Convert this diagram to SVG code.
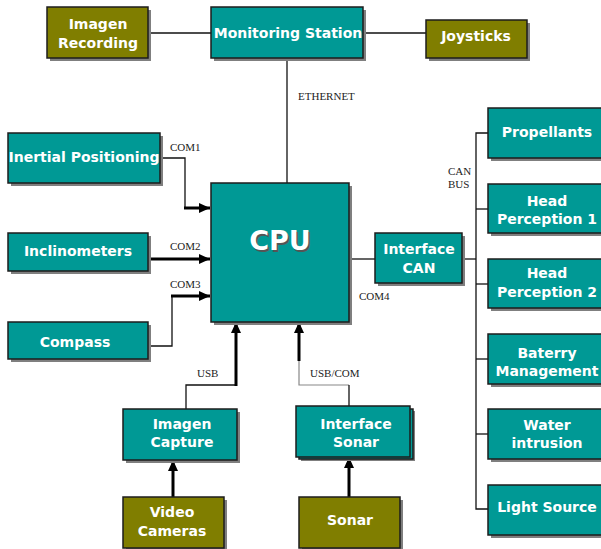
<svg xmlns="http://www.w3.org/2000/svg" width="601" height="549" viewBox="0 0 601 549">
<defs>
<marker id="ah" markerUnits="userSpaceOnUse" markerWidth="12" markerHeight="12" viewBox="0 0 12 12" refX="11" refY="6" orient="auto">
<path d="M0,1 L11,6 L0,11 Z" fill="#000"/>
</marker>
</defs>
<style>
.sh{fill:#7f7f7f}
.t{fill:#009995;stroke:#1c1c1c;stroke-width:1.5}
.o{fill:#807e00;stroke:#1c1c1c;stroke-width:1.5}
.lb{font-family:"DejaVu Sans",Verdana,sans-serif;font-weight:bold;font-size:14px;fill:#fff;text-anchor:middle}
.cl{font-family:"Liberation Serif","Times New Roman",serif;font-size:11px;fill:#222}
.thin{fill:none;stroke:#111;stroke-width:1.3}
.thick{fill:none;stroke:#000;stroke-width:3}
</style>
<g id="connectors">
<line class="thin" x1="148" y1="33" x2="211" y2="33"/>
<line class="thin" x1="363" y1="33" x2="426" y2="33"/>
<line class="thin" x1="287" y1="58" x2="287" y2="183"/>
<polyline class="thin" points="160,158 185,158 185,208"/>
<line class="thick" x1="184" y1="208" x2="210" y2="208" marker-end="url(#ah)"/>
<line class="thick" x1="148" y1="259" x2="210" y2="259" stroke-width="2.5" marker-end="url(#ah)"/>
<polyline class="thin" points="148,346 172,346 172,296"/>
<line class="thick" x1="171" y1="296" x2="210" y2="296" marker-end="url(#ah)"/>
<polyline class="thin" points="186,409 186,385 236,385"/>
<line class="thick" x1="236" y1="386" x2="236" y2="322" marker-end="url(#ah)"/>
<polyline fill="none" stroke="#888" stroke-width="1.2" points="299,360 299,385 349,385"/>
<line class="thin" x1="349" y1="385" x2="349" y2="406"/>
<line class="thick" x1="299" y1="361" x2="299" y2="322" marker-end="url(#ah)"/>
<line class="thick" x1="173" y1="497" x2="173" y2="460" marker-end="url(#ah)"/>
<line class="thick" x1="349" y1="497" x2="349" y2="457" marker-end="url(#ah)"/>
<line class="thin" x1="349" y1="259" x2="375" y2="259"/>
<line class="thin" x1="462" y1="259" x2="476" y2="259"/>
<polyline class="thin" points="488,133 476,133 476,509 488,509"/>
<line class="thin" x1="476" y1="209" x2="488" y2="209"/>
<line class="thin" x1="476" y1="284" x2="488" y2="284"/>
<line class="thin" x1="476" y1="359" x2="488" y2="359"/>
<line class="thin" x1="476" y1="434" x2="488" y2="434"/>
<text class="cl" x="298" y="100">ETHERNET</text>
<text class="cl" x="170" y="151">COM1</text>
<text class="cl" x="170" y="250">COM2</text>
<text class="cl" x="170" y="288">COM3</text>
<text class="cl" x="359" y="300">COM4</text>
<text class="cl" x="197" y="377">USB</text>
<text class="cl" x="310" y="377">USB/COM</text>
<text class="cl" x="448" y="175">CAN</text>
<text class="cl" x="448" y="188">BUS</text>
</g>
<g id="imagen-recording">
<rect class="sh" x="50" y="10" width="101" height="51"/>
<rect class="o" x="47" y="7" width="101" height="51"/>
<text class="lb" x="98" y="29">Imagen</text>
<text class="lb" x="98" y="48">Recording</text>
</g>
<g id="monitoring-station">
<rect class="sh" x="214" y="10" width="152" height="51"/>
<rect class="t" x="211" y="7" width="152" height="51"/>
<text class="lb" x="288" y="38">Monitoring Station</text>
</g>
<g id="joysticks">
<rect class="sh" x="429" y="23" width="101" height="38"/>
<rect class="o" x="426" y="20" width="101" height="38"/>
<text class="lb" x="476" y="41">Joysticks</text>
</g>
<g id="inertial-positioning">
<rect class="sh" x="11" y="136" width="152" height="50"/>
<rect class="t" x="8" y="133" width="152" height="50"/>
<text class="lb" x="84" y="162">Inertial Positioning</text>
</g>
<g id="inclinometers">
<rect class="sh" x="11" y="236" width="140" height="38"/>
<rect class="t" x="8" y="233" width="140" height="38"/>
<text class="lb" x="78" y="256">Inclinometers</text>
</g>
<g id="compass">
<rect class="sh" x="11" y="325" width="140" height="37"/>
<rect class="t" x="8" y="322" width="140" height="37"/>
<text class="lb" x="75" y="347">Compass</text>
</g>
<g id="cpu">
<rect class="sh" x="214" y="186" width="138" height="139"/>
<rect class="t" x="211" y="183" width="138" height="139"/>
<text x="281.5" y="251.5" font-family="'DejaVu Sans',Verdana,sans-serif" font-weight="bold" font-size="27" fill="#555" text-anchor="middle">CPU</text>
<text x="280" y="250" font-family="'DejaVu Sans',Verdana,sans-serif" font-weight="bold" font-size="27" fill="#fff" text-anchor="middle">CPU</text>
</g>
<g id="interface-can">
<rect class="sh" x="378" y="236" width="87" height="50"/>
<rect class="t" x="375" y="233" width="87" height="50"/>
<text class="lb" x="419" y="254">Interface</text>
<text class="lb" x="419" y="273">CAN</text>
</g>
<g id="propellants">
<rect class="sh" x="491" y="111" width="130" height="50"/>
<rect class="t" x="488" y="108" width="130" height="50"/>
<text class="lb" x="547" y="137">Propellants</text>
</g>
<g id="head-perception-1">
<rect class="sh" x="491" y="187" width="130" height="49"/>
<rect class="t" x="488" y="184" width="130" height="49"/>
<text class="lb" x="547" y="206">Head</text>
<text class="lb" x="547" y="224">Perception 1</text>
</g>
<g id="head-perception-2">
<rect class="sh" x="491" y="262" width="130" height="49"/>
<rect class="t" x="488" y="259" width="130" height="49"/>
<text class="lb" x="547" y="278">Head</text>
<text class="lb" x="547" y="297">Perception 2</text>
</g>
<g id="baterry-management">
<rect class="sh" x="491" y="337" width="130" height="50"/>
<rect class="t" x="488" y="334" width="130" height="50"/>
<text class="lb" x="547" y="358">Baterry</text>
<text class="lb" x="547" y="376">Management</text>
</g>
<g id="water-intrusion">
<rect class="sh" x="491" y="412" width="130" height="50"/>
<rect class="t" x="488" y="409" width="130" height="50"/>
<text class="lb" x="547" y="430">Water</text>
<text class="lb" x="547" y="448">intrusion</text>
</g>
<g id="light-source">
<rect class="sh" x="491" y="488" width="130" height="50"/>
<rect class="t" x="488" y="485" width="130" height="50"/>
<text class="lb" x="547" y="512">Light Source</text>
</g>
<g id="imagen-capture">
<rect class="sh" x="126" y="412" width="114" height="51"/>
<rect class="t" x="123" y="409" width="114" height="51"/>
<text class="lb" x="182" y="429">Imagen</text>
<text class="lb" x="182" y="447">Capture</text>
</g>
<g id="interface-sonar">
<rect class="sh" x="301" y="411" width="114" height="50"/>
<rect class="t" x="299" y="409" width="114" height="50" stroke-width="1"/>
<rect class="t" x="296" y="406" width="114" height="51"/>
<text class="lb" x="356" y="429">Interface</text>
<text class="lb" x="356" y="447">Sonar</text>
</g>
<g id="video-cameras">
<rect class="sh" x="126" y="500" width="101" height="51"/>
<rect class="o" x="123" y="497" width="101" height="51"/>
<text class="lb" x="172" y="517">Video</text>
<text class="lb" x="172" y="536">Cameras</text>
</g>
<g id="sonar">
<rect class="sh" x="302" y="500" width="101" height="51"/>
<rect class="o" x="299" y="497" width="101" height="51"/>
<text class="lb" x="350" y="525">Sonar</text>
</g>
</svg>
